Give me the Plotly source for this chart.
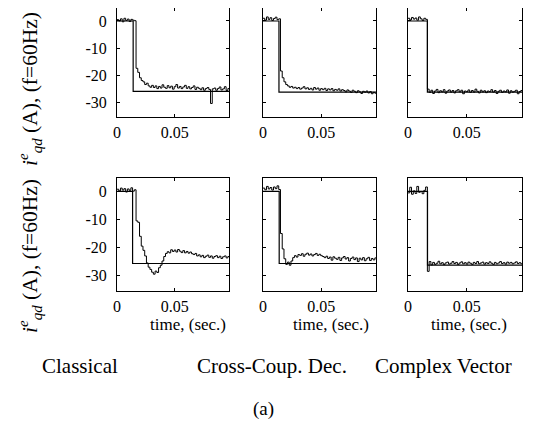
import plotly.graph_objects as go

# ---------------- data ----------------
t = [0.0, 0.0015, 0.003, 0.0045, 0.006, 0.0075, 0.009, 0.0105, 0.012, 0.0135,
     0.015, 0.0165, 0.018, 0.0195, 0.021, 0.0225, 0.024, 0.0255, 0.027, 0.0285,
     0.03, 0.0315, 0.033, 0.0345, 0.036, 0.0375, 0.039, 0.0405, 0.042, 0.0435,
     0.045, 0.0465, 0.048, 0.0495, 0.051, 0.0525, 0.054, 0.0555, 0.057, 0.0585,
     0.06, 0.0615, 0.063, 0.0645, 0.066, 0.0675, 0.069, 0.0705, 0.072, 0.0735,
     0.075, 0.0765, 0.078, 0.0795, 0.081, 0.0825, 0.084, 0.0855, 0.087, 0.0885,
     0.09, 0.0915, 0.093, 0.0945, 0.096, 0.0975]

# measured currents (A)
cl_top = [0.5, 0.0, 0.8, -0.3, 1.0, 0.2, 0.7, -0.2, 0.6, 0.3, 0.1,
          -17.5, -19.0, -21.0, -22.0, -22.5, -23.5, -23.0, -24.0, -24.5, -23.8,
          -24.6, -24.0, -25.0, -24.2, -24.8, -23.6, -24.5, -24.9, -23.9, -24.7,
          -24.1, -25.2, -24.3, -23.5, -24.8, -24.2, -25.0, -24.4, -23.8, -24.9,
          -24.3, -25.1, -24.6, -24.0, -25.3, -24.5, -24.9, -25.4, -24.7, -25.6,
          -25.0, -24.6, -25.3, -30.5, -25.1, -24.8, -25.6, -25.0, -24.4, -25.5,
          -25.1, -24.3, -25.7, -25.0, -25.4]
cc_top = [1.0, 0.3, 1.5, 0.6, 1.2, 0.2, 0.9, 1.4, 0.5, 0.8,
          -18.5, -21.0, -22.5, -23.5, -24.0, -24.5, -24.2, -24.8,
          -24.5, -25.0, -24.6, -25.2, -24.8, -24.3, -25.1, -24.7, -25.3, -24.9,
          -25.5, -24.6, -25.2, -24.8, -25.6, -25.0, -25.4, -24.9, -25.7, -25.1,
          -25.5, -25.0, -25.8, -25.3, -25.6, -25.1, -25.9, -25.4, -25.7, -26.2,
          -25.5, -25.9, -26.4, -25.6, -26.0, -26.5, -25.8, -26.2, -26.8, -26.0,
          -26.3, -25.9, -26.6, -26.1, -26.9, -26.4, -26.7, -26.3]
cv_top = [1.0, 0.4, 1.3, 0.7, 1.1, 0.3, 1.5, 0.8, 0.2, 1.0, 0.6,
          -25.2, -26.4, -25.6, -26.8, -25.9, -25.3, -26.5, -25.8, -26.2, -25.4,
          -26.7, -25.9, -25.5, -26.3, -25.7, -26.6, -25.8, -25.4, -26.2, -25.6,
          -26.9, -25.9, -26.1, -25.5, -26.4, -25.7, -26.3, -25.2, -26.0, -26.6,
          -25.6, -26.2, -25.8, -26.5, -25.9, -26.1, -25.4, -26.3, -25.7, -26.8,
          -26.0, -25.6, -26.4, -25.9, -26.2, -25.5, -26.7, -25.8, -26.3, -26.0,
          -25.6, -26.9, -26.1, -25.7, -26.4]
cl_bot = [0.8, 0.2, 1.2, 0.5, 1.0, -0.2, 0.9, 0.4, 1.3, 0.1, 0.6,
          -10.5, -11.0, -16.0, -19.5, -21.0, -23.0, -25.5, -27.0, -27.8, -28.8,
          -29.5, -28.4, -28.9, -27.2, -26.3, -24.8, -23.2, -22.1, -21.5, -21.9,
          -20.8, -21.4, -20.9, -21.6, -20.7, -21.3, -21.8, -21.1, -21.9, -21.4,
          -22.0, -21.6, -22.2, -22.5, -22.1, -23.0, -22.6, -23.3, -22.8, -23.6,
          -23.1, -22.7, -23.5, -23.0, -23.8, -23.2, -22.9, -23.6, -23.1, -23.9,
          -23.3, -23.0, -23.7, -23.2, -23.5]
cc_bot = [1.2, 0.6, 1.8, 0.9, 1.4, 0.5, 1.6, 1.0, 2.0, 0.7,
          -15.0, -20.5, -24.0, -26.0, -25.2, -26.3, -24.8, -23.6, -22.9, -23.4,
          -22.5, -22.8, -22.2, -23.1, -22.4, -22.0, -22.7, -22.3, -23.0, -22.5,
          -22.1, -22.8, -22.4, -22.9, -23.2, -23.6, -23.1, -23.9, -23.4, -24.5,
          -23.3, -23.8, -24.2, -23.5, -24.6, -23.7, -23.2, -24.1, -23.6, -24.8,
          -23.9, -23.4, -24.3, -23.7, -25.0, -23.8, -24.4, -23.6, -24.7, -24.0,
          -23.5, -24.6, -23.9, -24.4, -23.7, -24.2]
cv_bot = [-0.5, 1.5, -1.0, 0.2, -0.7, 1.8, -0.3, 0.0, -0.8, 0.4, 1.6,
          -28.5, -25.0, -26.2,
          -25.3, -26.0, -25.6, -24.9, -25.8, -25.4, -26.1, -25.5, -25.2, -25.9,
          -25.6, -25.0, -25.7, -25.3, -26.0, -25.5, -25.1, -25.8, -25.4, -25.9,
          -25.2, -25.6, -26.0, -25.3, -25.7, -25.0, -25.8, -25.5, -25.2, -25.9,
          -25.4, -25.7, -25.1, -25.6, -26.0, -25.3, -25.8, -25.5, -25.0, -25.7,
          -25.4, -25.9, -25.2, -25.6, -25.3, -25.8, -25.5, -25.1, -25.7, -25.4,
          -25.8, -25.3]

# reference step commands: step time and final level per panel
ref_step_t = [0.014, 0.0137, 0.0165, 0.0135, 0.0139, 0.0166]
ref_level = [-26.0, -26.3, -26.3, -25.7, -25.7, -26.3]
ref_end_t = 0.0975

measured = [cl_top, cc_top, cv_top, cl_bot, cc_bot, cv_bot]

methods = ["Classical", "Cross-Coup. Dec.", "Complex Vector"]
x_ticks = [0, 0.05]
x_tick_text = ["0", "0.05"]
y_ticks = [0, -10, -20, -30]
y_tick_text = ["0", "-10", "-20", "-30"]
y_label = "<i>i</i><sup><i>e</i></sup><sub><i>qd</i></sub> (A), (f=60Hz)"
x_label = "time, (sec.)"
caption = "(a)"

# ---------------- layout ----------------
# the page body has an 8px margin, so the figure is drawn 8px in from the corner
OFF = 8
W, H = 553 - OFF, 422 - OFF
FONT = "Liberation Serif"


def px_x(x):
    return (x - OFF) / W


def px_y(y):
    return 1 - (y - OFF) / H


col_px = [(117, 229), (263, 376), (408, 522)]
row_px = [(7.5, 117), (178, 291)]

fig = go.Figure()

for k in range(6):
    r, c = divmod(k, 3)
    ax = k + 1
    xa = "x" if ax == 1 else f"x{ax}"
    ya = "y" if ax == 1 else f"y{ax}"
    y = measured[k]
    fig.add_trace(go.Scatter(
        x=t[:len(y)], y=y, mode="lines", line=dict(color="black", width=1, shape="hv"),
        xaxis=xa, yaxis=ya, showlegend=False, hoverinfo="skip"))
    ts = ref_step_t[k]
    fig.add_trace(go.Scatter(
        x=[0, ts, ts, ref_end_t], y=[0, 0, ref_level[k], ref_level[k]],
        mode="lines", line=dict(color="black", width=1.2),
        xaxis=xa, yaxis=ya, showlegend=False, hoverinfo="skip"))

    x0, x1 = col_px[c]
    y0, y1 = row_px[r]
    axis_common = dict(showline=True, linecolor="black", linewidth=1, mirror="ticks",
                       ticks="inside", ticklen=3, tickcolor="black", showgrid=False,
                       zeroline=False, automargin=False,
                       tickfont=dict(family=FONT, size=16, color="black"))
    fig.layout[f"xaxis{'' if ax == 1 else ax}"] = dict(
        domain=[max(px_x(x0), 0), min(px_x(x1), 1)], range=[0, 0.097], anchor=ya,
        tickvals=x_ticks, ticktext=x_tick_text, ticklabelstandoff=1, **axis_common)
    fig.layout[f"yaxis{'' if ax == 1 else ax}"] = dict(
        domain=[max(px_y(y1), 0), min(px_y(y0), 1)], range=[-35.5, 4.8], anchor=xa,
        tickvals=y_ticks, ticktext=y_tick_text, showticklabels=(c == 0),
        ticklabelstandoff=6, **axis_common)

annotations = []
# y labels
for yc in [89, 256]:
    annotations.append(dict(text=y_label, x=px_x(30), y=px_y(yc), xref="paper", yref="paper",
                            xanchor="center", yanchor="middle",
                            textangle=-90, showarrow=False,
                            font=dict(family=FONT, size=21.5, color="black")))
# time labels
for xc in [188, 331, 469]:
    annotations.append(dict(text=x_label, x=px_x(xc), y=px_y(324), xref="paper", yref="paper",
                            xanchor="center", yanchor="middle",
                            showarrow=False, font=dict(family=FONT, size=17, color="black")))
# method names
for name, xc in zip(methods, [80, 272, 443]):
    annotations.append(dict(text=name, x=px_x(xc), y=px_y(366), xref="paper", yref="paper",
                            xanchor="center", yanchor="middle",
                            showarrow=False, font=dict(family=FONT, size=21, color="black")))
annotations.append(dict(text=caption, x=px_x(263), y=px_y(409), xref="paper", yref="paper",
                        xanchor="center", yanchor="middle",
                        showarrow=False, font=dict(family=FONT, size=19, color="black")))

fig.update_layout(width=W, height=H, margin=dict(l=0, r=0, t=0, b=0),
                  paper_bgcolor="white", plot_bgcolor="white",
                  annotations=annotations)

fig.write_html("out.html")
